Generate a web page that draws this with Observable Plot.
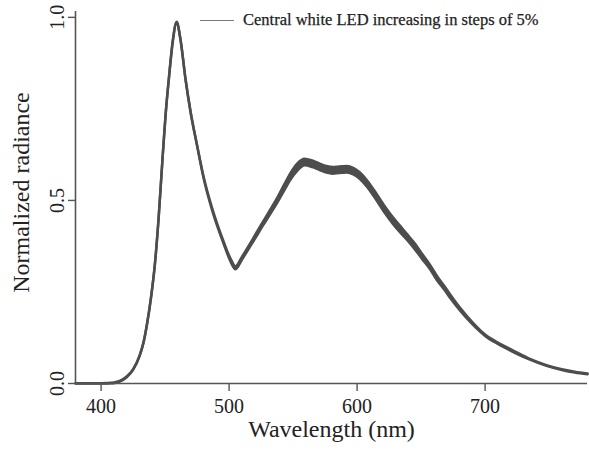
<!DOCTYPE html>
<html>
<head>
<meta charset="utf-8">
<script src="https://cdn.jsdelivr.net/npm/d3@7"></script>
<script src="https://cdn.jsdelivr.net/npm/@observablehq/plot@0.6"></script>
<style>
  html, body { margin: 0; padding: 0; background: #fff; }
  #wrap { position: relative; width: 589px; height: 458px; font-family: "Liberation Serif", "Times New Roman", serif; }
  #legend { position: absolute; left: 200px; top: 10px; display: flex; align-items: center; font-size: 16.5px; color: #222; white-space: nowrap; -webkit-text-stroke: 0.25px #222; }
  #legend .sw { width: 34px; height: 0; border-top: 1.5px solid #7a7a7a; margin-right: 9px; }
</style>
</head>
<body>
<div id="wrap"><div id="legend"><span class="sw"></span><span>Central white LED increasing in steps of 5%</span></div></div>
<script>
// Wavelength samples (nm)
const wavelength = [380, 400, 410, 415, 420, 425, 430, 433, 436, 439, 442, 445, 448, 451, 453, 456, 459, 462, 466, 470, 475, 480, 487, 496, 501, 505, 510, 516, 521, 526, 532, 538, 543, 548, 553, 559, 565, 570, 576, 581, 586, 592, 597, 602, 608, 615, 621, 628, 634, 639, 645, 651, 657, 662, 668, 673, 680, 690, 700, 710, 722, 735, 748, 760, 770, 780];
// Lowest curve of the bundle (normalized radiance)
const radianceLow = [0.000, 0.000, 0.001, 0.006, 0.017, 0.037, 0.074, 0.109, 0.164, 0.234, 0.324, 0.454, 0.614, 0.759, 0.834, 0.934, 0.986, 0.939, 0.829, 0.739, 0.649, 0.562, 0.470, 0.379, 0.334, 0.312, 0.338, 0.372, 0.400, 0.429, 0.462, 0.496, 0.527, 0.557, 0.580, 0.596, 0.591, 0.584, 0.576, 0.573, 0.575, 0.576, 0.571, 0.559, 0.536, 0.501, 0.469, 0.436, 0.411, 0.392, 0.367, 0.339, 0.312, 0.284, 0.257, 0.232, 0.201, 0.162, 0.130, 0.108, 0.086, 0.065, 0.048, 0.037, 0.030, 0.025];
// Highest curve of the bundle (normalized radiance)
const radianceHigh = [0.001, 0.001, 0.003, 0.008, 0.019, 0.039, 0.076, 0.111, 0.166, 0.236, 0.326, 0.456, 0.616, 0.761, 0.836, 0.936, 0.988, 0.941, 0.831, 0.741, 0.651, 0.566, 0.476, 0.385, 0.342, 0.320, 0.346, 0.380, 0.410, 0.439, 0.474, 0.510, 0.543, 0.575, 0.600, 0.614, 0.609, 0.602, 0.594, 0.591, 0.593, 0.594, 0.589, 0.577, 0.554, 0.519, 0.487, 0.454, 0.429, 0.408, 0.383, 0.353, 0.324, 0.296, 0.267, 0.242, 0.209, 0.168, 0.134, 0.112, 0.090, 0.067, 0.050, 0.039, 0.032, 0.027];
const xTicks = [400, 500, 600, 700];
const yTicks = [0, 0.5, 1.0];
const xLabel = "Wavelength (nm)";
const yLabel = "Normalized radiance";

const data = wavelength.map((w, i) => ({w, lo: radianceLow[i], hi: radianceHigh[i]}));
const curveColor = "#4d4d4d";
const axisColor = "#555";

const chart = Plot.plot({
  width: 589,
  height: 458,
  marginLeft: 75,
  marginRight: 2,
  marginTop: 11,
  marginBottom: 75,
  style: {fontFamily: "'Liberation Serif', 'Times New Roman', serif", fontSize: "20px", color: "#222", background: "transparent"},
  x: {domain: [380, 780]},
  y: {domain: [0, 1.016]},
  marks: [
    Plot.areaY(data, {x: "w", y1: "lo", y2: "hi", fill: curveColor, curve: "monotone-x"}),
    Plot.line(data, {x: "w", y: "lo", stroke: curveColor, strokeWidth: 2.5, curve: "monotone-x"}),
    Plot.line(data, {x: "w", y: "hi", stroke: curveColor, strokeWidth: 2.5, curve: "monotone-x"}),
    Plot.ruleX([380], {stroke: axisColor, strokeWidth: 1.6}),
    Plot.ruleY([0], {stroke: axisColor, strokeWidth: 1.6}),
    Plot.axisX({ticks: xTicks, tickSize: 8, tickPadding: 7, fontSize: 20, stroke: axisColor, strokeWidth: 1.4, label: null, tickFormat: d3.format("d")}),
    Plot.axisY({ticks: yTicks, tickSize: 7, tickPadding: 5, tickRotate: -90, fontSize: 20, stroke: axisColor, strokeWidth: 1.4, label: null, tickFormat: d3.format(".1f")}),
    Plot.text([xLabel], {frameAnchor: "bottom", dy: 53, fontSize: 24, fill: "#222"}),
    Plot.text([yLabel], {frameAnchor: "left", textAnchor: "middle", dx: -54, dy: -5, rotate: -90, fontSize: 24, fill: "#222"})
  ]
});
document.getElementById("wrap").prepend(chart);
</script>
</body>
</html>
